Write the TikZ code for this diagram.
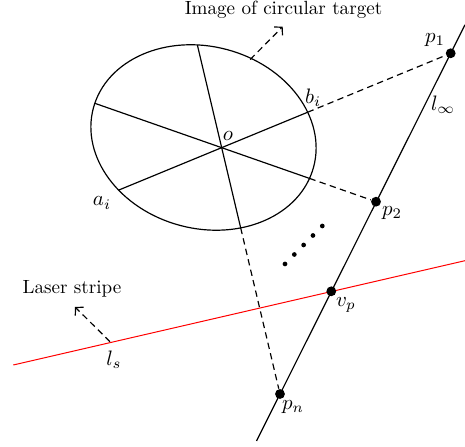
\documentclass[tikz,border=0pt]{standalone}
\usepackage{tikz}
\usetikzlibrary{arrows.meta,calc,intersections}

\begin{document}
\begin{tikzpicture}[x=0.55pt, y=0.55pt, line width=0.65pt,
  bigdot/.style={circle, fill=black, inner sep=0pt, minimum size=5.4pt},
  smalldot/.style={circle, fill=black, inner sep=0pt, minimum size=2.6pt},
  dashln/.style={dash pattern=on 3.5pt off 2.4pt},
  tip/.style={-{Straight Barb[length=3pt, width=6.5pt]}},
  caption/.style={scale=1.05},
  lbl/.style={scale=1.15}]

\useasboundingbox (0,0) rectangle (465,447);

% image of the target
\coordinate (c) at (203.5,309.5);
\coordinate (o) at (221.7,299.3);
\draw[name path=ell, rotate around={-15:(c)}] (c) ellipse [x radius=114, y radius=91];

% vanishing line and laser stripe
\coordinate (linf1) at (465,422.2);
\coordinate (linf2) at (256.5,6);
\draw (linf2) -- (linf1);

\coordinate (ls1) at (13.3,82);
\coordinate (ls2) at (465,186.3);
\draw[red, line width=0.55pt] (ls1) -- (ls2);

\node[bigdot] (p1) at (450.7,393.7) {};
\node[bigdot] (p2) at (376,245.3) {};
\node[bigdot] (pn) at (280,53) {};
\node[bigdot] (vp) at (331.3,155.7) {};

\foreach \p/\q/\r in {p1/b1/a1, p2/b2/a2, pn/b3/a3} {
  \path[name path=fw] (o) -- (\p);
  \path[name path=bw] (o) -- ($(o)!-1!(\p)$);
  \path[name intersections={of=ell and fw, by=\q}];
  \path[name intersections={of=ell and bw, by=\r}];
  \draw (\r) -- (\q);
  \draw[dashln] (\q) -- (\p);
}

\foreach \k in {0,...,4}
  \node[smalldot] (d\k) at ($(285,183)!\k/4!(322.3,221)$) {};

% captions
\node[caption] (img) at (283.5,437) {Image of circular target};
\coordinate (e1) at (250.2,387.5);
\coordinate (e2) at (282.7,420.3);
\draw[dashln, tip] (e1) -- (e2);

\node[caption] (laser) at (72,158) {Laser stripe};
\coordinate (s1) at (110,105.3);
\coordinate (s2) at (75,140);
\draw[dashln, tip] (s1) -- (s2);

% labels
\node[lbl] (lp1) at (435,407) {$p_1$};
\node[lbl] (linf) at (443,342) {$l_\infty$};
\node[lbl] (lb) at (313,349) {$b_i$};
\node[lbl] (lo) at (228,311) {$o$};
\node[lbl] (la) at (102,244) {$a_i$};
\node[lbl] (lp2) at (392,234) {$p_2$};
\node[lbl] (lvp) at (346,142) {$v_p$};
\node[lbl] (lpn) at (293,40) {$p_n$};
\node[lbl] (lls) at (114,87) {$l_s$};

\end{tikzpicture}
\end{document}
